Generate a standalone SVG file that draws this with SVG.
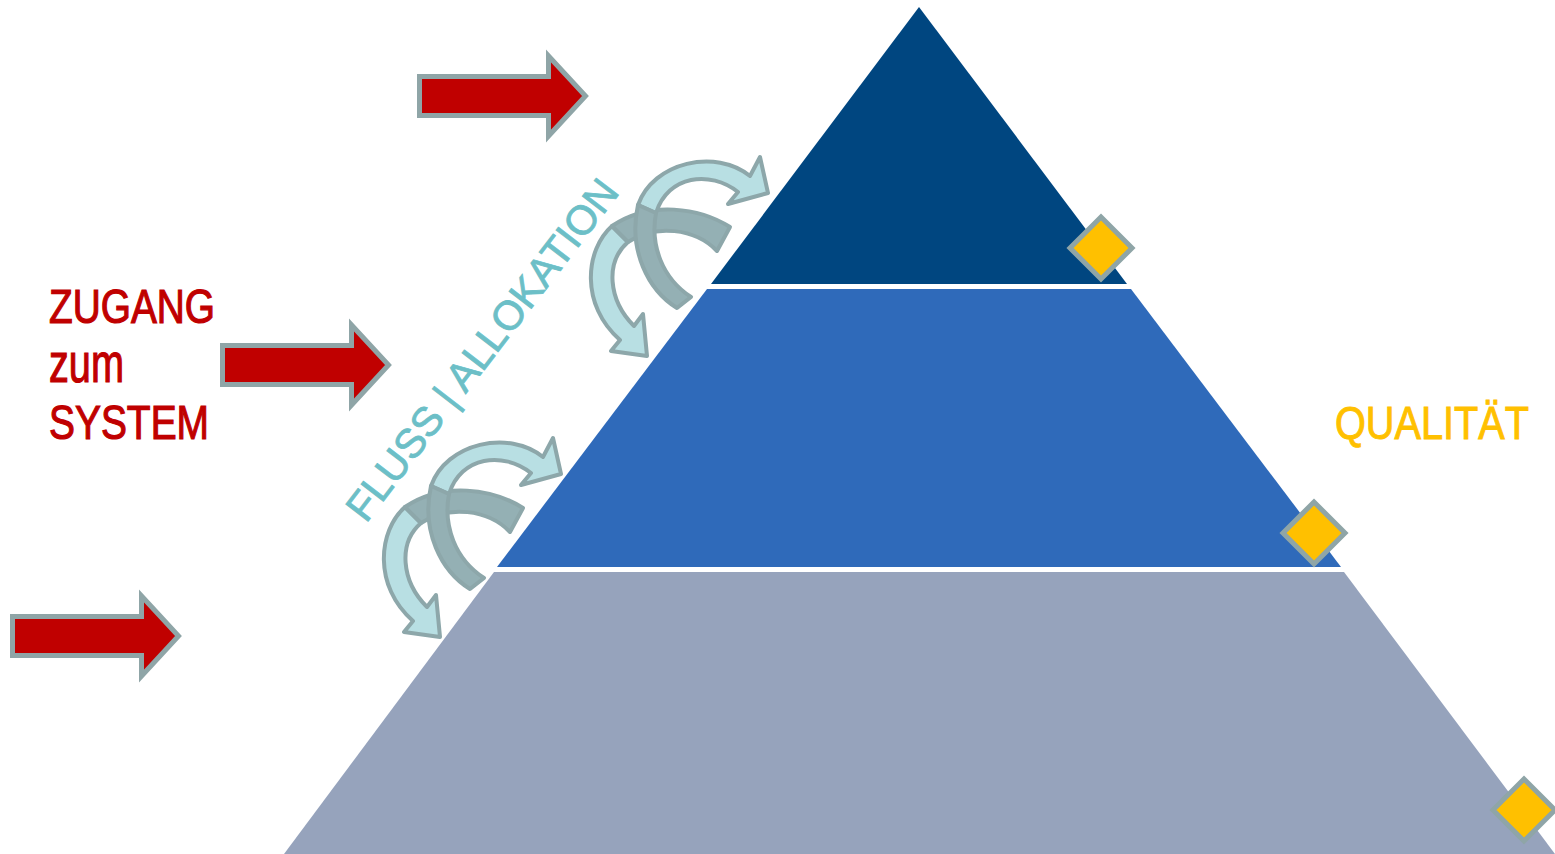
<svg xmlns="http://www.w3.org/2000/svg" width="1555" height="854" viewBox="0 0 1555 854">
<defs>
<style>
.tier{stroke:none}
.dia{fill:#FFC000;stroke:#8FA5A7;stroke-width:5}
.red{fill:#C00000;stroke:#8FA5A7;stroke-width:5}
.lt{fill:#B8DFE3;stroke:#8DA7AA;stroke-width:4;stroke-linejoin:round}
.dk{fill:#94B0B4;stroke:#8DA7AA;stroke-width:4;stroke-linejoin:round}
.lbl{font-family:"Liberation Sans",Arial,sans-serif}
</style>
<path id="redArrow" class="red" d="M2.5,-19.5 H131.5 V-40 L168.5,0 L131.5,40 V19.5 H2.5 Z"/>
<path id="dia" class="dia" d="M0,-31 L31,0 L0,31 L-31,0 Z"/>
<g id="swirl">
<path class="lt" d="M612,226 C585,250 580,305 620,340 L611,351 L647,356 L643,314 L634,326 C608,300 605,262 628,242 Z"/>
<path class="dk" d="M730,227 C700,208 650,200 612,226 L628,242 C655,224 695,228 717,251 Z"/>
<path class="lt" d="M638,205 C653,162 716,148 750,176 L760,157 L768,193 L728,204 L738,192 C710,170 668,175 656,213 Z"/>
<path class="dk" d="M677,308 C648,290 628,250 638,205 L656,213 C650,245 662,278 691,297 Z"/>
</g>
</defs>
<rect width="1555" height="854" fill="#FFFFFF"/>
<g id="pyramid">
<g id="tier-top"><path class="tier" fill="#004680" d="M919,7 L1127,284 L711,284 Z"/></g>
<g id="tier-middle"><path class="tier" fill="#2F6ABA" d="M707,289 L1131,289 L1341,567 L497,567 Z"/></g>
<g id="tier-bottom"><path class="tier" fill="#96A3BC" d="M494,572 L1344,572 L1555,854 L284,854 Z"/></g>
</g>
<g id="quality-markers">
<g id="diamond-1"><use href="#dia" x="1101" y="248"/></g>
<g id="diamond-2"><use href="#dia" x="1314" y="533"/></g>
<g id="diamond-3"><use href="#dia" x="1524" y="810"/></g>
</g>
<g id="connectors">
<g id="access-arrow-1"><use href="#redArrow" x="417" y="96"/></g>
<g id="access-arrow-2"><use href="#redArrow" x="220" y="365"/></g>
<g id="access-arrow-3"><use href="#redArrow" x="10" y="636"/></g>
<g id="flow-upper"><use href="#swirl"/></g>
<g id="flow-lower"><use href="#swirl" transform="translate(-207,281)"/></g>
</g>
<g id="label-zugang" class="lbl" fill="#C00000" stroke="#C00000" stroke-width="1.2">
<text x="49" y="323" font-size="48" textLength="166" lengthAdjust="spacingAndGlyphs">ZUGANG</text>
<text x="49" y="382" font-size="56" textLength="75" lengthAdjust="spacingAndGlyphs">zum</text>
<text x="49" y="439" font-size="48" textLength="160" lengthAdjust="spacingAndGlyphs">SYSTEM</text>
</g>
<g id="label-qualitaet" class="lbl" fill="#FFC000" stroke="#FFC000" stroke-width="1">
<text x="1335" y="439" font-size="47" textLength="194" lengthAdjust="spacingAndGlyphs">QUALITÄT</text>
</g>
<g id="label-fluss" class="lbl" fill="#6CBFC7" stroke="#6CBFC7" stroke-width="0.8">
<text transform="translate(366,524) rotate(-52.5)" font-size="41" textLength="418" lengthAdjust="spacingAndGlyphs">FLUSS | ALLOKATION</text>
</g>
</svg>
